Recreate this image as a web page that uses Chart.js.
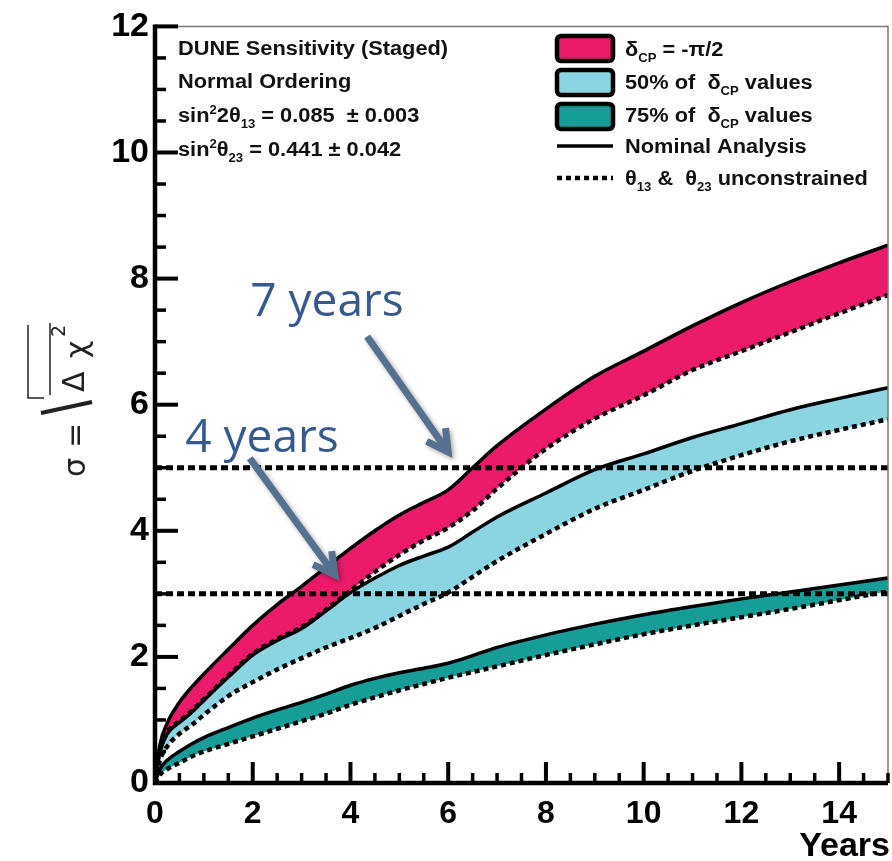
<!DOCTYPE html>
<html>
<head>
<meta charset="utf-8">
<script src="https://cdn.jsdelivr.net/npm/chart.js@4.4.1/dist/chart.umd.min.js"></script>
<style>
  html, body { margin: 0; padding: 0; background: #fff; }
  #wrap { width: 892px; height: 861px; }
</style>
</head>
<body>
<div id="wrap"><canvas id="dune" width="892" height="861"></canvas></div>
<script>
// exposure in years
const years = [0, 0.1, 0.25, 0.5, 0.75, 1, 1.5, 2, 2.5, 3, 3.5, 4, 4.5, 5, 5.5, 6, 6.5, 7, 8, 9, 10, 11, 12, 13, 14, 15];
// sigma = sqrt(delta chi2), solid = nominal analysis, dotted = theta13 & theta23 unconstrained
const pinkNominal = [0, 0.6, 0.95, 1.28, 1.52, 1.73, 2.12, 2.5, 2.83, 3.12, 3.42, 3.72, 4.0, 4.25, 4.45, 4.65, 5.0, 5.35, 5.93, 6.45, 6.85, 7.25, 7.62, 7.95, 8.25, 8.53];
const pinkUnconstr = [0, 0.5, 0.8, 0.98, 1.14, 1.33, 1.7, 2.05, 2.28, 2.47, 2.75, 3.05, 3.35, 3.62, 3.85, 4.05, 4.32, 4.67, 5.3, 5.78, 6.15, 6.55, 6.85, 7.15, 7.45, 7.74];
const blueNominal = [0, 0.48, 0.78, 0.96, 1.12, 1.31, 1.68, 2.03, 2.26, 2.45, 2.73, 3.02, 3.25, 3.45, 3.6, 3.74, 3.98, 4.22, 4.6, 4.97, 5.22, 5.48, 5.7, 5.92, 6.1, 6.27];
const blueUnconstr = [0, 0.36, 0.58, 0.78, 0.92, 1.08, 1.38, 1.6, 1.8, 1.98, 2.15, 2.3, 2.46, 2.65, 2.84, 3.02, 3.27, 3.52, 3.95, 4.35, 4.65, 4.95, 5.2, 5.42, 5.6, 5.77];
const tealNominal = [0, 0.22, 0.36, 0.5, 0.62, 0.72, 0.88, 1.03, 1.16, 1.28, 1.41, 1.55, 1.66, 1.75, 1.82, 1.9, 2.02, 2.15, 2.35, 2.52, 2.67, 2.8, 2.92, 3.03, 3.14, 3.25];
const tealUnconstr = [0, 0.13, 0.22, 0.32, 0.42, 0.5, 0.62, 0.74, 0.86, 0.98, 1.1, 1.24, 1.36, 1.47, 1.57, 1.67, 1.76, 1.85, 2.03, 2.2, 2.36, 2.5, 2.63, 2.76, 2.9, 3.04];
const sigmaLevels = [3, 5];
const yearRange = [0, 15];
const xTickLabels = [0, 2, 4, 6, 8, 10, 12, 14];
const yTickLabels = [0, 2, 4, 6, 8, 10, 12];

const PINK = '#ec1a6a', BLUE = '#8bd4e2', TEAL = '#179d97';
const FONT = '"Liberation Sans", Arial, sans-serif';

function pts(vals) {
	return years.map((x, i) => ({x: x, y: vals[i]}));
}
function curve(vals, fillColor, dotted) {
	return {
		data: pts(vals),
		borderColor: '#000',
		borderWidth: dotted ? 4.5 : 3.5,
		borderDash: dotted ? [5, 4] : [],
		backgroundColor: fillColor || 'transparent',
		fill: fillColor ? '+1' : false,
		pointRadius: 0,
		cubicInterpolationMode: 'monotone',
	};
}

// text with sub/superscripts, slightly widened: parts = [[text, mode], ...]
function rich(ctx, x, y, parts, size) {
	const sx = 1.09;
	parts.forEach(([t, mode]) => {
		let s = mode ? Math.round(size * 0.62) : size;
		let dy = mode === 'sub' ? size * 0.3 : mode === 'sup' ? -size * 0.42 : 0;
		ctx.font = 'bold ' + s + 'px ' + FONT;
		ctx.save();
		ctx.translate(x, y + dy);
		ctx.scale(sx, 1);
		ctx.fillText(t, 0, 0);
		ctx.restore();
		x += ctx.measureText(t).width * sx;
	});
}

function arrow(ctx, x0, y0, x1, y1) {
	let a = Math.atan2(y1 - y0, x1 - x0), L = 24;
	ctx.beginPath();
	ctx.moveTo(x0, y0);
	ctx.lineTo(x1, y1);
	ctx.moveTo(x1 - L * Math.cos(a - 0.5), y1 - L * Math.sin(a - 0.5));
	ctx.lineTo(x1, y1);
	ctx.lineTo(x1 - L * Math.cos(a + 0.5), y1 - L * Math.sin(a + 0.5));
	ctx.stroke();
}

const decorations = {
	id: 'decorations',
	afterDraw(chart) {
		const ctx = chart.ctx, xs = chart.scales.x, ys = chart.scales.y, a = chart.chartArea;
		ctx.save();
		// frame
		ctx.strokeStyle = '#777';
		ctx.lineWidth = 1.5;
		ctx.beginPath();
		ctx.moveTo(a.left, a.top); ctx.lineTo(a.right, a.top); ctx.lineTo(a.right, a.bottom);
		ctx.stroke();
		ctx.strokeStyle = '#000';
		ctx.lineWidth = 4.5;
		ctx.beginPath();
		ctx.moveTo(a.left, a.top - 2); ctx.lineTo(a.left, a.bottom); ctx.lineTo(a.right, a.bottom);
		ctx.stroke();
		// inward ticks
		for (let v = 0; v <= 15.001; v += 0.5) {
			let px = xs.getPixelForValue(v), major = v % 2 === 0;
			ctx.lineWidth = major ? 4 : 3.5;
			ctx.beginPath(); ctx.moveTo(px, a.bottom); ctx.lineTo(px, a.bottom - (major ? 21 : 10)); ctx.stroke();
		}
		for (let v = 0; v <= 12.001; v += 0.5) {
			let py = ys.getPixelForValue(v), major = v % 2 === 0;
			ctx.lineWidth = major ? 4 : 3.5;
			ctx.beginPath(); ctx.moveTo(a.left, py); ctx.lineTo(a.left + (major ? 23 : 11), py); ctx.stroke();
		}

		// axis titles
		ctx.fillStyle = '#000';
		ctx.font = 'bold 34px ' + FONT;
		ctx.textAlign = 'right';
		ctx.textBaseline = 'alphabetic';
		ctx.fillText('Years', a.right + 2, 856);
		ctx.textAlign = 'left';

		// y title: sigma = sqrt(delta chi2)
		ctx.fillStyle = '#222';
		ctx.save();
		ctx.translate(85, 480);
		ctx.rotate(-Math.PI / 2);
		ctx.font = '30px "DejaVu Sans", sans-serif';
		ctx.fillText('\u03c3', 3, 0);
		ctx.fillText('=', 32, 0);
		ctx.fillText('\u0394', 88, -1);
		ctx.fillText('\u03c7', 122, 2);
		ctx.font = '19px "DejaVu Sans", sans-serif';
		ctx.fillText('2', 143, -20);
		ctx.restore();
		ctx.strokeStyle = '#222';
		ctx.lineWidth = 1.5;
		ctx.beginPath();
		ctx.moveTo(28, 325); ctx.lineTo(28, 398); ctx.lineTo(44, 398);
		ctx.moveTo(50, 323); ctx.lineTo(50, 395);
		ctx.stroke();
		ctx.lineWidth = 4;
		ctx.beginPath();
		ctx.moveTo(41, 413); ctx.lineTo(92, 402);
		ctx.stroke();

		// info text top left
		ctx.fillStyle = '#111';
		let tx = a.left + 23;
		rich(ctx, tx, 55, [['DUNE Sensitivity (Staged)', '']], 20);
		rich(ctx, tx, 88, [['Normal Ordering', '']], 20);
		rich(ctx, tx, 122, [['sin', ''], ['2', 'sup'], ['2\u03b8', ''], ['13', 'sub'], [' = 0.085  \u00b1 0.003', '']], 20);
		rich(ctx, tx, 156, [['sin', ''], ['2', 'sup'], ['\u03b8', ''], ['23', 'sub'], [' = 0.441 \u00b1 0.042', '']], 20);

		// legend
		const bands = [[PINK, 36], [BLUE, 70], [TEAL, 104]];
		bands.forEach(([c, y]) => {
			ctx.fillStyle = c;
			ctx.strokeStyle = '#000';
			ctx.lineWidth = 4.5;
			ctx.beginPath();
			ctx.roundRect(557, y, 56, 25, 4);
			ctx.fill();
			ctx.stroke();
		});
		ctx.lineWidth = 3.5;
		ctx.beginPath(); ctx.moveTo(557, 146); ctx.lineTo(613, 146); ctx.stroke();
		ctx.lineWidth = 4.5;
		ctx.setLineDash([5, 4]);
		ctx.beginPath(); ctx.moveTo(557, 178); ctx.lineTo(613, 178); ctx.stroke();
		ctx.setLineDash([]);
		ctx.fillStyle = '#111';
		let lx = 625;
		rich(ctx, lx, 56, [['\u03b4', ''], ['CP', 'sub'], [' = -\u03c0/2', '']], 20);
		rich(ctx, lx, 89, [['50% of  \u03b4', ''], ['CP', 'sub'], [' values', '']], 20);
		rich(ctx, lx, 122, [['75% of  \u03b4', ''], ['CP', 'sub'], [' values', '']], 20);
		rich(ctx, lx, 153, [['Nominal Analysis', '']], 20);
		rich(ctx, lx, 185, [['\u03b8', ''], ['13', 'sub'], [' &  \u03b8', ''], ['23', 'sub'], [' unconstrained', '']], 20);

		// annotations (positions in data units)
		ctx.fillStyle = '#365a8f';
		ctx.font = '46px "Open Sans", sans-serif';
		ctx.fillText('7 years', xs.getPixelForValue(1.95), ys.getPixelForValue(7.4));
		ctx.fillText('4 years', xs.getPixelForValue(0.62), ys.getPixelForValue(5.25));
		ctx.strokeStyle = '#56708f';
		ctx.lineWidth = 7;
		ctx.shadowColor = 'rgba(0,0,0,0.35)';
		ctx.shadowBlur = 5;
		ctx.shadowOffsetX = 2;
		ctx.shadowOffsetY = 2;
		arrow(ctx, xs.getPixelForValue(4.34), ys.getPixelForValue(7.08), xs.getPixelForValue(6.0), ys.getPixelForValue(5.25));
		arrow(ctx, xs.getPixelForValue(1.94), ys.getPixelForValue(5.15), xs.getPixelForValue(3.68), ys.getPixelForValue(3.3));
		ctx.restore();
	}
};

const sigmaSets = sigmaLevels.map(s => ({
	data: yearRange.map(x => ({x: x, y: s})),
	borderColor: '#000',
	borderWidth: 5,
	borderDash: [7, 4],
	pointRadius: 0,
	fill: false,
}));

const ctx = document.getElementById('dune').getContext('2d');
new Chart(ctx, {
	type: 'line',
	data: {
		datasets: [
			...sigmaSets,
			curve(pinkNominal, PINK, false),
			curve(pinkUnconstr, null, true),
			curve(blueNominal, BLUE, false),
			curve(blueUnconstr, null, true),
			curve(tealNominal, TEAL, false),
			curve(tealUnconstr, null, true),
		],
	},
	options: {
		responsive: false,
		animation: false,
		events: [],
		layout: {padding: {left: 0, top: 22, right: 4, bottom: 0}},
		plugins: {
			legend: {display: false},
			tooltip: {enabled: false},
			filler: {drawTime: 'beforeDatasetsDraw'},
		},
		scales: {
			x: {
				type: 'linear', min: 0, max: 15,
				grid: {display: false, drawTicks: false},
				border: {display: false},
				afterFit: (s) => { s.height = 78; },
				afterBuildTicks: (s) => { s.ticks = xTickLabels.map(v => ({value: v})); },
				ticks: {
					padding: 12, color: '#000', maxRotation: 0, autoSkip: false,
					font: {family: FONT, size: 32, weight: 'bold'},
				},
			},
			y: {
				type: 'linear', min: 0, max: 12,
				grid: {display: false, drawTicks: false},
				border: {display: false},
				afterFit: (s) => { s.width = 155; },
				afterBuildTicks: (s) => { s.ticks = yTickLabels.map(v => ({value: v})); },
				ticks: {
					padding: 6, color: '#000', autoSkip: false,
					font: {family: FONT, size: 34, weight: 'bold'},
				},
			},
		},
	},
	plugins: [decorations],
});
</script>
</body>
</html>
